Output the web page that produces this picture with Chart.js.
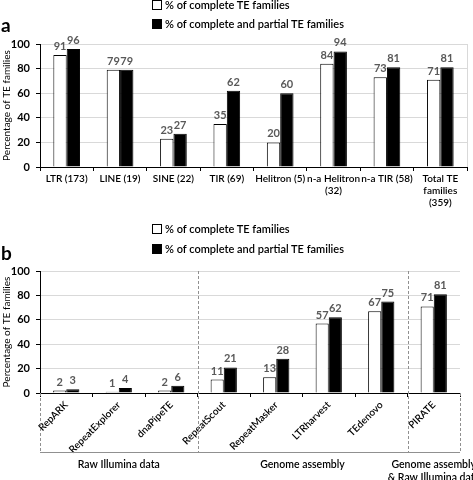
<!DOCTYPE html>
<html>
<head>
<meta charset="utf-8">
<script src="https://cdn.jsdelivr.net/npm/chart.js@4.4.1/dist/chart.umd.min.js"></script>
<style>
  body { margin: 0; background: #fff; font-family: Lato, sans-serif; }
  #wrap { position: relative; width: 473px; height: 480px; overflow: hidden; }
  .box { position: absolute; }
  .leg { position: absolute; font: 600 11px Lato, sans-serif; color: #000; white-space: nowrap; line-height: 14px; }
  .leg i { display: inline-block; width: 8px; height: 8px; border: 1px solid #000; margin-right: 3px; vertical-align: -1px; }
  .panel { position: absolute; font: bold 19px Lato, sans-serif; left: 1px; }
</style>
</head>
<body>
<div id="wrap">
  <div class="box" style="left:0;top:0;width:473px;height:215px"><canvas id="chartA"></canvas></div>
  <div class="box" style="left:0;top:215px;width:473px;height:265px"><canvas id="chartB"></canvas></div>
  <div class="leg" style="left:152px;top:-2px"><i style="background:#fff"></i><span class="l0"></span></div>
  <div class="leg" style="left:152px;top:17px"><i style="background:#000"></i><span class="l1"></span></div>
  <div class="leg" style="left:152px;top:222px"><i style="background:#fff"></i><span class="l0"></span></div>
  <div class="leg" style="left:152px;top:242px"><i style="background:#000"></i><span class="l1"></span></div>
  <div class="panel" style="top:13px">a</div>
  <div class="panel" style="top:241px">b</div>
</div>
<script>
// series names
const seriesNames = ['% of complete TE families', '% of complete and partial TE families'];

// panel a
const catsA = ['LTR (173)', 'LINE (19)', 'SINE (22)', 'TIR (69)', 'Helitron (5)', ['n-a Helitron', '(32)'], 'n-a TIR (58)', ['Total TE', 'families', '(359)']];
const completeA = [91, 79, 23, 35, 20, 84, 73, 71];
const partialA = [96, 79, 27, 62, 60, 94, 81, 81];

// panel b
const catsB = ['RepARK', 'RepeatExplorer', 'dnaPipeTE', 'RepeatScout', 'RepeatMasker', 'LTRharvest', 'TEdenovo', 'PIRATE'];
const completeB = [2, 1, 2, 11, 13, 57, 67, 71];
const partialB = [3, 4, 6, 21, 28, 62, 75, 81];
const groupNames = [['Raw Illumina data'], ['Genome assembly'], ['Genome assembly', '& Raw Illumina data']];
const groupSizes = [3, 4, 1];

const yTitle = 'Percentage of TE families';

document.querySelectorAll('.l0').forEach(e => e.textContent = seriesNames[0]);
document.querySelectorAll('.l1').forEach(e => e.textContent = seriesNames[1]);

Chart.defaults.font.family = 'Lato, sans-serif';
Chart.defaults.color = '#000';

// numbers above the bars
const valueLabels = {
  id: 'valueLabels',
  afterDatasetsDraw(chart) {
    const ctx = chart.ctx;
    ctx.save();
    ctx.font = 'bold 11px Lato, sans-serif';
    ctx.fillStyle = '#595959';
    ctx.textAlign = 'center';
    ctx.textBaseline = 'bottom';
    chart.data.datasets.forEach((ds, i) => {
      chart.getDatasetMeta(i).data.forEach((bar, j) => {
        ctx.fillText(ds.data[j], bar.x, bar.y - 3);
      });
    });
    ctx.restore();
  }
};

// grey right edge of plot a
const frame = {
  id: 'frame',
  beforeDatasetsDraw(chart) {
    if (!chart.options.plugins.frame) return;
    const a = chart.chartArea, ctx = chart.ctx;
    ctx.save();
    ctx.strokeStyle = '#d9d9d9';
    ctx.lineWidth = 1;
    ctx.beginPath();
    ctx.moveTo(Math.round(a.right) + 0.5, a.top);
    ctx.lineTo(Math.round(a.right) + 0.5, a.bottom);
    ctx.stroke();
    ctx.restore();
  }
};

// dashed group separators and group names for panel b
const groups = {
  id: 'groups',
  afterDraw(chart) {
    if (!chart.options.plugins.groups) return;
    const a = chart.chartArea, ctx = chart.ctx, x = chart.scales.x;
    const half = (x.getPixelForValue(1) - x.getPixelForValue(0)) / 2;
    const bottom = 237;
    ctx.save();
    ctx.strokeStyle = '#909090';
    ctx.lineWidth = 1;
    ctx.beginPath();
    ctx.moveTo(a.left, bottom + 0.5);
    ctx.lineTo(a.right, bottom + 0.5);
    ctx.stroke();
    ctx.setLineDash([3, 2]);
    let start = 0;
    const edges = [];
    groupSizes.forEach(n => { edges.push(start); start += n; });
    edges.push(start);
    edges.forEach((e, k) => {
      const px = Math.round(x.getPixelForValue(e) - half) + 0.5;
      const outer = k === 0 || k === edges.length - 1;
      ctx.beginPath();
      ctx.moveTo(px, outer ? a.bottom : a.top);
      ctx.lineTo(px, bottom);
      ctx.stroke();
    });
    ctx.setLineDash([]);
    ctx.font = '600 10.5px Lato, sans-serif';
    ctx.fillStyle = '#000';
    ctx.textAlign = 'center';
    ctx.textBaseline = 'middle';
    groupNames.forEach((g, k) => {
      const l = x.getPixelForValue(edges[k]) - half;
      const r = x.getPixelForValue(edges[k + 1]) - half;
      g.forEach((line, m) => ctx.fillText(line, (l + r) / 2, 250 + m * 13));
    });
    ctx.restore();
  }
};

function makeChart(id, labels, complete, partial, o) {
  return new Chart(document.getElementById(id), {
    type: 'bar',
    data: {
      labels: labels,
      datasets: [
        { label: seriesNames[0], data: complete, backgroundColor: '#fff', borderColor: '#000', borderWidth: 1 },
        { label: seriesNames[1], data: partial, backgroundColor: '#000', borderColor: '#000', borderWidth: 1 }
      ]
    },
    options: {
      responsive: true,
      maintainAspectRatio: false,
      animation: false,
      categoryPercentage: 0.5,
      barPercentage: 1,
      layout: { padding: { top: o.top, right: o.right, left: 0, bottom: 0 } },
      plugins: {
        legend: { display: false },
        tooltip: { enabled: false },
        frame: o.frame,
        groups: o.groups
      },
      scales: {
        y: {
          min: 0,
          max: 100,
          ticks: { stepSize: 20, padding: 6, font: { size: 11, weight: 'bold' } },
          grid: { color: '#d9d9d9', tickColor: '#000', tickLength: 4 },
          border: { color: '#000' },
          title: { display: true, text: yTitle, font: { size: 10 }, padding: { top: 1, bottom: 0 } },
          afterFit(s) { s.width = 40; }
        },
        x: {
          ticks: { autoSkip: false, minRotation: o.rot, maxRotation: o.rot, padding: 2, font: { size: 10, weight: 600 } },
          grid: { drawOnChartArea: false, tickColor: '#000', tickLength: 4 },
          border: { color: '#000' },
          afterFit(s) { s.height = o.xh; }
        }
      }
    },
    plugins: [valueLabels, frame, groups]
  });
}

makeChart('chartA', catsA, completeA, partialA, { top: 44, right: 6, xh: 48, rot: 0, frame: true, groups: false });
makeChart('chartB', catsB, completeB, partialB, { top: 56, right: 13, xh: 87, rot: 45, frame: false, groups: true });
</script>
</body>
</html>
